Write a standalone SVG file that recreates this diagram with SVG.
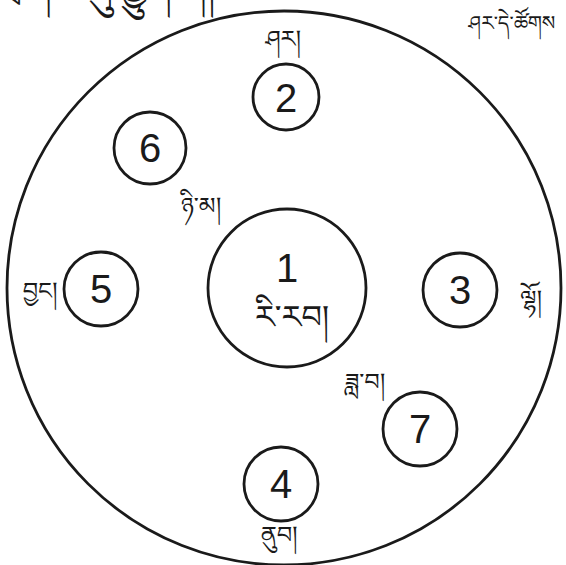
<svg xmlns="http://www.w3.org/2000/svg" width="566" height="565" viewBox="0 0 566 565">
<style>
.c{fill:none;stroke:#1a1a1a;stroke-width:2.8}
.n{font-family:"Liberation Sans",Arial,sans-serif;font-size:40px;fill:#1a1a1a;text-anchor:middle}
.t{font-family:"Noto Serif Tibetan","Noto Sans Tibetan","Jomolhari","Microsoft Himalaya",serif;font-size:24px;fill:#1a1a1a;text-anchor:middle}
</style>
<rect width="566" height="565" fill="#fff"/>
<g id="world">
<circle class="c" cx="284" cy="288" r="277"/>
</g>
<g id="node1">
<circle class="c" cx="287" cy="288" r="79"/>
<text class="n" x="287" y="282">1</text>
<text class="t" x="292" y="328" style="font-size:32px">རི་རབ།</text>
</g>
<g id="node2">
<circle class="c" cx="286" cy="97" r="33"/>
<text class="n" x="286" y="112">2</text>
</g>
<g id="node3">
<circle class="c" cx="460" cy="290" r="37"/>
<text class="n" x="460" y="304">3</text>
</g>
<g id="node4">
<circle class="c" cx="281" cy="484" r="37"/>
<text class="n" x="281" y="498">4</text>
</g>
<g id="node5">
<circle class="c" cx="101" cy="289" r="37"/>
<text class="n" x="101" y="303">5</text>
</g>
<g id="node6">
<circle class="c" cx="150" cy="148" r="36"/>
<text class="n" x="150" y="162">6</text>
</g>
<g id="node7">
<circle class="c" cx="420" cy="429" r="37"/>
<text class="n" x="420" y="443">7</text>
</g>
<g id="labels">
<text class="t" x="283" y="47">ཤར།</text>
<text class="t" x="512" y="30" style="font-size:20px">ཤར་དེ་ཚོགས</text>
<text class="t" x="201" y="214">ཉི་མ།</text>
<text class="t" x="40" y="299">བྱང།</text>
<text class="t" x="531" y="307">ལྷོ།</text>
<text class="t" x="365" y="390">ཟླ་བ།</text>
<text class="t" x="279" y="543">ནུབ།</text>
<text class="t" x="-2" y="0" style="font-size:38px;text-anchor:start">ཕྲ་ཤེལ་ཀུ་ཕྱུག་ཀ།</text>
</g>
</svg>
